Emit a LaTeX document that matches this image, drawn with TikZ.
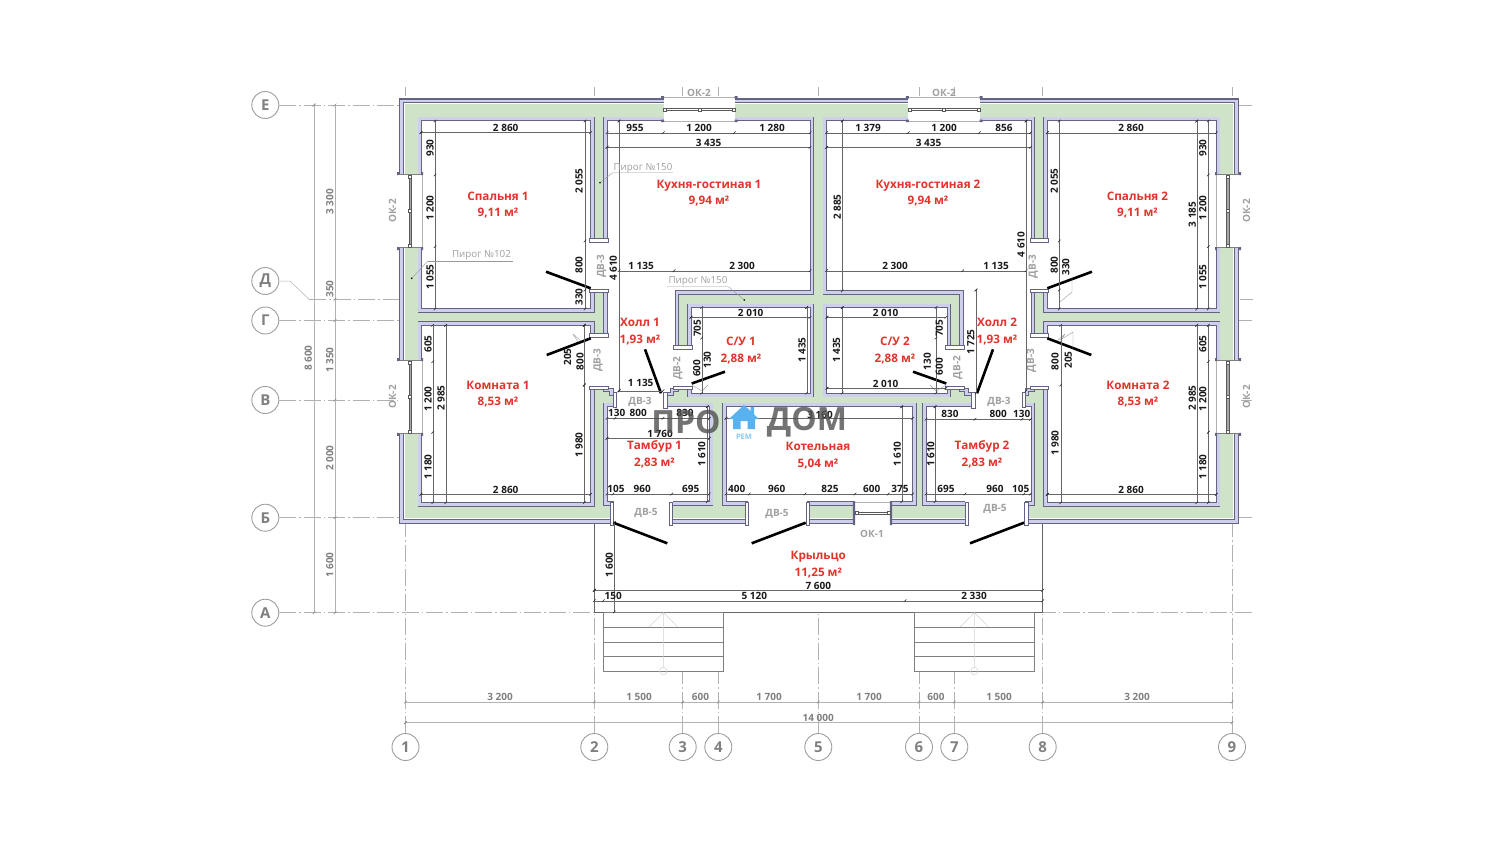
\documentclass[tikz,border=0pt]{standalone}
\usepackage{fontspec}
\setmainfont{Open Sans}
\definecolor{wgreen}{RGB}{207,227,201}
\definecolor{wlav}{RGB}{205,207,236}
\definecolor{wdark}{RGB}{100,100,130}
\definecolor{redt}{RGB}{226,52,44}
\definecolor{grayt}{RGB}{128,128,128}
\definecolor{doort}{RGB}{160,160,160}
\definecolor{logod}{RGB}{80,80,80}
\definecolor{logob}{RGB}{88,178,240}
\newcount\tcnt
\tikzset{
  axisln/.style={draw=black!30,line width=.6pt,dash pattern=on 17pt off 3pt on 1.5pt off 3pt},
  bubble/.style={circle,draw=black!38,fill=white,line width=.9pt,minimum size=27pt,inner sep=0pt,font=\bfseries\fontsize{15}{15}\selectfont,text=black!50},
  dl/.style={draw=black!60,line width=.35pt},
  dt/.style={draw=black!85,line width=.55pt},
  blk/.style={inner sep=0pt,font=\bfseries\fontsize{10}{10}\selectfont,text=black!90},
  gyt/.style={inner sep=0pt,font=\bfseries\fontsize{10}{10}\selectfont,text=grayt},
  drt/.style={inner sep=0pt,font=\bfseries\fontsize{10}{10}\selectfont,text=doort},
  rdt/.style={inner sep=0pt,anchor=base,font=\bfseries\fontsize{11.7}{12}\selectfont,text=redt},
  pgt/.style={inner sep=0pt,font=\fontsize{9.8}{10}\selectfont,text=doort},
  capst/.style={fill=white,draw=wdark,line width=.7pt},
  ldr/.style={draw=black!40,line width=.4pt},
}
\newcommand\nd[4]{\global\advance\tcnt 1\relax\node[#1] (t\the\tcnt) at (#2,#3) {#4};}
\newcommand\lb[3]{\nd{blk}{#1}{#2}{#3}}
\newcommand\lbr[3]{\nd{blk,rotate=90}{#1}{#2}{#3}}
\newcommand\gy[3]{\nd{gyt}{#1}{#2}{#3}}
\newcommand\gyr[3]{\nd{gyt,rotate=90}{#1}{#2}{#3}}
\newcommand\dv[3]{\nd{drt}{#1}{#2+.5}{#3}}
\newcommand\dvr[3]{\nd{drt,rotate=90}{#1+.5}{#2}{#3}}
\newcommand\rmtxt[4]{\nd{rdt}{#1}{#2+4.4}{#3}\nd{rdt}{#1}{#2+20.9}{#4}}
\newcommand\dH[4]{\draw[dl] (#2,#1) -- (#3,#1);
  \foreach \q in {#2,#3,#4}{\draw[dt] (\q-1.3,#1+1.3) -- (\q+1.3,#1-1.3);}}
\newcommand\dV[4]{\draw[dl] (#1,#2) -- (#1,#3);
  \foreach \q in {#2,#3,#4}{\draw[dt] (#1-1.3,\q+1.3) -- (#1+1.3,\q-1.3);}}
\newcommand\hole[1]{%
  \draw[wdark,line width=8pt,miter limit=10] #1;
  \draw[wlav,line width=6.8pt,miter limit=10] #1;
  \fill[white] #1;
  \draw[wdark,line width=.9pt,miter limit=10] #1;}
\newcommand\vwin[2]{%
  \fill[white] (397.5,#1) rectangle (422.5,#2);
  \draw[black!30,line width=.4pt] (422,#1) -- (422,#2);
  \draw[black!50,line width=.5pt] (398,#1) -- (422,#1) (398,#2) -- (422,#2);
  \fill[wdark] (397,#1-2.5) rectangle (399,#1+.5) (421,#1-2.5) rectangle (423,#1+.5)
     (397,#2-.5) rectangle (399,#2+2.5) (421,#2-.5) rectangle (423,#2+2.5);
  \filldraw[fill=black!35,draw=black!65,line width=.3pt] (408.7,#1+2) rectangle (411.5,#2-2);
  \filldraw[fill=white,draw=black!65,line width=.4pt] (408.6,#1+.5) rectangle (411.6,#1+3.5)
     (408.6,#2-3.5) rectangle (411.6,#2-.5) (408.6,{(#1+#2)/2-1.5}) rectangle (411.6,{(#1+#2)/2+1.5});}
\newcommand\hwin[2]{%
  \fill[white] (#1,96) rectangle (#2,121.5);
  \draw[black!30,line width=.4pt] (#1,121) -- (#2,121) (#1,97.5) -- (#2,97.5);
  \fill[wdark] (#1-2.5,96) rectangle (#1+.5,98.5) (#2-.5,96) rectangle (#2+2.5,98.5)
     (#1-2.5,119.5) rectangle (#1+.5,122) (#2-.5,119.5) rectangle (#2+2.5,122);
  \draw[black!65,line width=.4pt] (#1,108.5) -- (#2,108.5) (#1,110) -- (#2,110);
  \filldraw[fill=white,draw=black!65,line width=.4pt] (#1,107.8) rectangle (#1+3,110.8)
     (#2-3,107.8) rectangle (#2,110.8) ({(#1+#2)/2-1.5},107.8) rectangle ({(#1+#2)/2+1.5},110.8);}
\newcommand\jamb[2]{\draw[capst] (#1,502) rectangle (#2,525);}
\newcommand\halfgeom{%
  \hole{(421.7,120.7) rectangle (590.7,308.7)}
  \hole{(421.7,325.3) rectangle (590.7,502.7)}
  \hole{(607,120.7) -- (\cxr,120.7) -- (\cxr,290.7) -- (675,290.7) -- (675,388) -- (670,388) -- (670,392) -- (613,392) -- (613,388) -- (607,388) -- cycle}
  \hole{(691,307.5) rectangle (\cxr,393.3)}
  \hole{(607,406.7) rectangle (\txr,501.7)}
  \vwin{174.5}{247.5}
  \vwin{360.7}{433.3}
  \fill[white] (589,242) rectangle (609,289.5);
  \fill[white] (589,337) rectangle (609,386);
  \draw[capst] (589.5,238.4) rectangle (608,242.3);
  \draw[capst] (589.5,289.3) rectangle (608,292.8);
  \draw[capst] (589.5,333.4) rectangle (608,337);
  \draw[capst] (589.5,386) rectangle (608,389.2);
  \fill[white] (670.5,349.3) rectangle (693,386);
  \draw[capst] (673.5,345.8) rectangle (692.3,349.3);
  \draw[capst] (673.5,386) rectangle (692.3,389.2);
  \fill[white] (616,388) rectangle (663,409);
  \draw[capst] (613,392) rectangle (616,407.5);
  \draw[capst] (663,392.5) rectangle (667,408);
  \draw[line width=2.6pt] (546,271.7) -- (590.7,288.3);
  \draw[line width=2.6pt] (546.7,355) -- (590.7,338.3);
  \draw[line width=2.6pt] (645,349.3) -- (661,393.3);
  \draw[line width=2.6pt] (725,371.7) -- (691.7,383.5);
  \draw[ldr] (578,342) -- (573,334) (581,341) -- (573,334);
  \draw[ldr] (691.7,385) -- (702,391) -- (708,385);
  \fill[white] (613.5,501) rectangle (672.7,526);
  \jamb{610}{613.5}\jamb{669.5}{672.7}
}
\begin{document}
\begin{tikzpicture}[x=1pt,y=-1pt]
\useasboundingbox (0,0) rectangle (1500,844);
\fill[white] (0,0) rectangle (1500,844);
\node[bubble] (ax1) at (405.5,747) {1};
\node[bubble] (ax2) at (594.3,747) {2};
\node[bubble] (ax3) at (682.7,747) {3};
\node[bubble] (ax4) at (718.3,747) {4};
\node[bubble] (ax5) at (818.3,747) {5};
\node[bubble] (ax6) at (919,747) {6};
\node[bubble] (ax7) at (954.3,747) {7};
\node[bubble] (ax8) at (1042.7,747) {8};
\node[bubble] (ax9) at (1232,747) {9};
\node[bubble] (ayE) at (265.3,105) {Е};
\node[bubble] (ayD) at (265.3,281) {Д};
\node[bubble] (ayG) at (265.3,320.5) {Г};
\node[bubble] (ayV) at (265.3,400) {В};
\node[bubble] (ayB) at (265.3,517.7) {Б};
\node[bubble] (ayA) at (265.3,612.7) {А};
\foreach \a in {1,2,3,4,5,6,7,8,9}{\draw[axisln] (ax\a.north) -- (ax\a |- 0,87);}
\foreach \a/\yy in {E/105,G/320.5,V/400,B/517.7,A/612.7}{\draw[axisln] (ay\a.east) -- (1253,\yy);}
\coordinate (dk) at (309,299.3);
\draw[black!30,line width=.5pt] (ayD.east) -- (290,281) -- (dk);
\draw[axisln] (dk) -- (1253,299.3);
\fill[white] (594.3,518) rectangle (1042.7,612.2);
\draw[black!60,line width=.45pt] (594.3,517) -- (594.3,612) (1042.7,517) -- (1042.7,612) (594.3,612) -- (1042.7,612);
\foreach \sx in {603.3,914.3}{
  \filldraw[fill=white,draw=black!50,line width=.5pt] (\sx,612) rectangle (\sx+120,671.5);
  \draw[black!50,line width=.5pt] (\sx,626.8) -- (\sx+120,626.8) (\sx,641.8) -- (\sx+120,641.8) (\sx,656.7) -- (\sx+120,656.7);
  \draw[black!18,line width=.5pt] (\sx+60,612.5) -- (\sx+60,667) (\sx+46,626.7) -- (\sx+60,612.5) -- (\sx+74,626.7);
  \draw[black!18,line width=.5pt] (\sx+60,671) circle (3.8);
}
\filldraw[fill=wlav,draw=wdark,line width=1.5pt] (399.5,98.8) rectangle (1238.5,523.4);
\filldraw[fill=white,draw=wdark,line width=.7pt] (403.6,102.6) rectangle (1234.4,519);
\fill[wgreen] (405,104) rectangle (1233,517.6);
\hole{(726,406.7) rectangle (912.7,501.7)}
\def\cxr{810}\def\txr{709.3}
\halfgeom
\begin{scope}[shift={(1638,0)},xscale=-1]
\def\cxr{811.4}\def\txr{712}
\halfgeom
\end{scope}
\hwin{663.5}{735}
\hwin{908.3}{980}
\fill[white] (748.4,501) rectangle (806.7,526);
\jamb{745.5}{748.4}\jamb{806.7}{809.8}
\fill[white] (855,501) rectangle (890,526);
\draw[black!30,line width=.4pt] (855,502) -- (890,502);
\fill[wdark] (852.8,501) rectangle (855.2,525) (889.8,501) rectangle (892.2,525);
\draw[black!65,line width=.4pt] (855,512) -- (890,512) (855,514) -- (890,514);
\filldraw[fill=white,draw=black!65,line width=.4pt] (855,511.5) rectangle (858,514.5) (887,511.5) rectangle (890,514.5);
\draw[line width=2.6pt] (613.3,522.7) -- (667.3,543.3);
\draw[line width=2.6pt] (805.7,522.7) -- (751.7,543.3);
\draw[line width=2.6pt] (1024,522.7) -- (970,543.3);
\dH{132.5}{421}{590.7}{421}
\dV{435}{121}{309}{175,246.7}
\dV{585}{121}{309}{241,290}
\dH{132.7}{607}{810}{663.3,734.3}
\dH{147.3}{607}{810}{607}
\dV{619}{121}{391}{121}
\dH{270.7}{619}{810}{674}
\dH{390.7}{619}{663}{619}
\dH{317.3}{691}{810}{691}
\dV{701.7}{307.5}{393}{338}
\dV{806.7}{307.5}{393}{307.5}
\dV{842.3}{121}{291}{121}
\dV{842.3}{307.5}{393}{307.5}
\dH{132.7}{826.6}{1030.5}{908.3,979.3}
\dH{147.3}{826.6}{1030.5}{826.6}
\dH{270.7}{826.6}{1026}{962.7}
\dV{1026}{121}{391}{121}
\dV{976}{290}{393}{290}
\dH{317.3}{827}{946}{827}
\dH{388.3}{827}{946}{827}
\dV{936}{307.5}{393}{338}
\dH{132.7}{1047.3}{1216.3}{1047.3}
\dV{1059.3}{121}{309}{241,290}
\dV{1208.3}{121}{309}{175,246.7}
\dV{1196.7}{121}{309}{121}
\dH{494.3}{421}{590.7}{421}
\dV{432.7}{325.3}{502.7}{361.7,432.3}
\dV{445.7}{325.3}{502.7}{325.3}
\dV{584.3}{385}{502.7}{385}
\dV{584.3}{325.3}{385}{325.3}
\dH{418.3}{607}{709.3}{615,663}
\dH{438.3}{607}{709.3}{607}
\dV{707.3}{406.7}{501.7}{406.7}
\dH{494}{607}{709.3}{613,671.7}
\dH{418.3}{726}{912.7}{726}
\dH{494}{726}{912.7}{749.3,805,855,888.3}
\dV{901.7}{406.7}{501.7}{406.7}
\dH{419.3}{926}{1030.5}{975,1022}
\dV{935}{406.7}{501.7}{406.7}
\dH{494}{926}{1030.5}{965,1024}
\dH{494.3}{1047.3}{1216.3}{1047.3}
\dV{1208.3}{325.3}{502.7}{361.7,432.3}
\dV{1196.7}{325.3}{502.7}{325.3}
\dV{1060.7}{325.3}{502.7}{385}
\dV{614.3}{522.7}{612}{522.7}
\dH{590.3}{594.3}{1042.7}{594.3}
\dH{600.7}{594.3}{1042.7}{603.3,905}
\begin{scope}[dl/.style={draw=black!30,line width=.5pt},dt/.style={draw=black!50,line width=.6pt}]
\dV{314}{105}{612.7}{105}
\dV{335}{105}{612.7}{299.3,320.5,400,517.7}
\dH{702}{405.5}{1232}{594.3,682.7,718.3,818.3,919,954.3,1042.7}
\dH{722.7}{405.5}{1232}{405.5}
\end{scope}
\draw[ldr] (600,182.7) -- (612.7,172.7) -- (673,172.7);
\fill (600,182.7) circle (.9);
\draw[ldr] (667,286.7) -- (728.5,286.7) -- (744.3,300);
\fill (744.3,300) circle (.9);
\draw[ldr] (428,261) -- (513,261);
\draw[ldr] (428,261) -- (411.7,278.3);
\fill (411.7,278.3) circle (.9);
\draw[ldr] (1060,302) -- (1072,292) -- (1072,277);
\draw[ldr] (1060,340) -- (1073,332) -- (1073,349);
\nd{pgt}{643}{168}{Пирог №150}
\nd{pgt}{698}{281.5}{Пирог №150}
\nd{pgt}{481.5}{255.5}{Пирог №102}
\lb{505.7}{128}{2 860}
\lbr{430}{148}{930}\lbr{430}{208}{1 200}\lbr{430}{277}{1 055}
\lbr{579}{181}{2 055}\lbr{579}{265}{800}\lbr{579}{297}{330}
\lb{505.7}{490}{2 860}
\lbr{428}{344}{605}\lbr{428}{399}{1 200}\lbr{428}{467}{1 180}
\lbr{441}{398}{2 985}\lbr{579}{445}{1 980}
\lbr{580}{361.7}{800}\lbr{567.5}{357}{205}
\lb{635}{128}{955}\lb{699}{128}{1 200}\lb{772}{128}{1 280}
\lb{708.5}{143}{3 435}
\lbr{613.3}{268}{4 610}
\lb{641}{266}{1 135}\lb{742}{266}{2 300}
\lb{640.7}{383}{1 135}
\lb{750.7}{313.3}{2 010}
\lbr{697.3}{328.3}{705}\lbr{696.7}{368.3}{600}\lbr{707.3}{360}{130}
\lbr{802}{350}{1 435}
\lb{616.7}{412.7}{130}\lb{638.3}{412.7}{800}\lb{685}{412.7}{830}
\lb{660}{434}{1 760}
\lbr{701.7}{454}{1 610}
\lb{616}{489.3}{105}\lb{642.3}{489.3}{960}\lb{690.7}{489.3}{695}
\lb{820}{415}{3 160}
\lb{736.7}{489.3}{400}\lb{776.7}{489.3}{960}\lb{830}{489.3}{825}\lb{871.7}{489.3}{600}\lb{900}{489.3}{375}
\lbr{897.3}{454}{1 610}
\lb{950}{414.3}{830}\lb{998.3}{414.3}{800}\lb{1021.7}{414.3}{130}
\lbr{930.7}{454}{1 610}
\lb{946}{489.3}{695}\lb{995}{489.3}{960}\lb{1020.7}{489.3}{105}
\lbr{837.3}{207}{2 885}
\lb{868}{128}{1 379}\lb{944}{128}{1 200}\lb{1004}{128}{856}
\lb{928.5}{143}{3 435}
\lb{895}{266}{2 300}\lb{996}{266}{1 135}
\lbr{1021}{244.3}{4 610}
\lbr{970.7}{342}{1 725}
\lb{885.5}{313.3}{2 010}\lb{885.5}{384}{2 010}
\lbr{836.5}{350}{1 435}
\lbr{939.3}{328.3}{705}\lbr{939.3}{366.7}{600}\lbr{927.3}{361.7}{130}
\lb{1131}{128}{2 860}\lb{1131}{490}{2 860}
\lbr{1054.3}{181}{2 055}\lbr{1054.3}{265}{800}\lbr{1065.7}{267}{330}
\lbr{1202.7}{148}{930}\lbr{1202.7}{208}{1 200}\lbr{1202.7}{277}{1 055}
\lbr{1192.3}{214.5}{3 185}
\lbr{1202.7}{344}{605}\lbr{1202.7}{399}{1 200}\lbr{1202.7}{467}{1 180}
\lbr{1192.3}{398}{2 985}
\lbr{1055}{361.7}{800}\lbr{1068.3}{360}{205}
\lbr{1055}{443}{1 980}
\lbr{609.3}{565}{1 600}
\lb{818.3}{585.7}{7 600}
\lb{613.3}{596}{150}\lb{754.3}{596}{5 120}\lb{974}{596}{2 330}
\gyr{308.3}{358}{8 600}
\gyr{329.7}{202}{3 300}\gyr{329.7}{289}{350}\gyr{329.7}{360}{1 350}\gyr{329.7}{458}{2 000}\gyr{329.7}{565}{1 600}
\gy{500}{697}{3 200}\gy{639}{697}{1 500}\gy{700.5}{697}{600}\gy{769}{697}{1 700}\gy{869}{697}{1 700}\gy{936}{697}{600}\gy{999}{697}{1 500}\gy{1137}{697}{3 200}
\gy{818.3}{717.7}{14 000}
\dv{699}{92}{ОК-2}\dv{944}{92}{ОК-2}
\dvr{392}{211}{ОК-2}\dvr{392}{397}{ОК-2}\dvr{1246}{211}{ОК-2}\dvr{1246}{397}{ОК-2}
\dv{872}{533}{ОК-1}
\dv{646}{512}{ДВ-5}\dv{777}{513}{ДВ-5}\dv{995}{508}{ДВ-5}
\dv{640}{401}{ДВ-3}\dv{999}{401}{ДВ-3}
\dvr{601}{266}{ДВ-3}\dvr{597.5}{360}{ДВ-3}\dvr{1032.7}{266.7}{ДВ-3}\dvr{1031}{360.7}{ДВ-3}
\dvr{677.3}{368.3}{ДВ-2}\dvr{957.3}{367.7}{ДВ-2}
\rmtxt{498}{196}{Спальня 1}{9,11 м²}
\rmtxt{709}{184}{Кухня-гостиная 1}{9,94 м²}
\rmtxt{928}{184}{Кухня-гостиная 2}{9,94 м²}
\rmtxt{1137.5}{196}{Спальня 2}{9,11 м²}
\rmtxt{640}{322.5}{Холл 1}{1,93 м²}
\rmtxt{741}{341.5}{С/У 1}{2,88 м²}
\rmtxt{895}{341.5}{С/У 2}{2,88 м²}
\rmtxt{997}{322.5}{Холл 2}{1,93 м²}
\rmtxt{498}{385}{Комната 1}{8,53 м²}
\rmtxt{1138}{385}{Комната 2}{8,53 м²}
\rmtxt{654.5}{445.5}{Тамбур 1}{2,83 м²}
\rmtxt{818}{446.5}{Котельная}{5,04 м²}
\rmtxt{982}{445.5}{Тамбур 2}{2,83 м²}
\rmtxt{818.3}{555.5}{Крыльцо}{11,25 м²}
\nd{inner sep=0pt,text=logod,text opacity=.8,font=\bfseries\fontsize{32}{32}\selectfont}{686}{422}{ПРО}
\nd{inner sep=0pt,text=logod,text opacity=.8,font=\bfseries\fontsize{32}{32}\selectfont}{807}{422}{ДОМ}
\fill[logob] (744,405) -- (750.5,411) -- (750.5,407) -- (754,407) -- (754,414.5) -- (759,419) -- (755,419) -- (755,429) -- (747.5,429) -- (747.5,421) -- (740.5,421) -- (740.5,429) -- (733,429) -- (733,419) -- (729,419) -- cycle;
\nd{inner sep=0pt,text=logob!70,font=\bfseries\fontsize{7.5}{8}\selectfont}{744}{437}{РЕМ}
\end{tikzpicture}
\end{document}
